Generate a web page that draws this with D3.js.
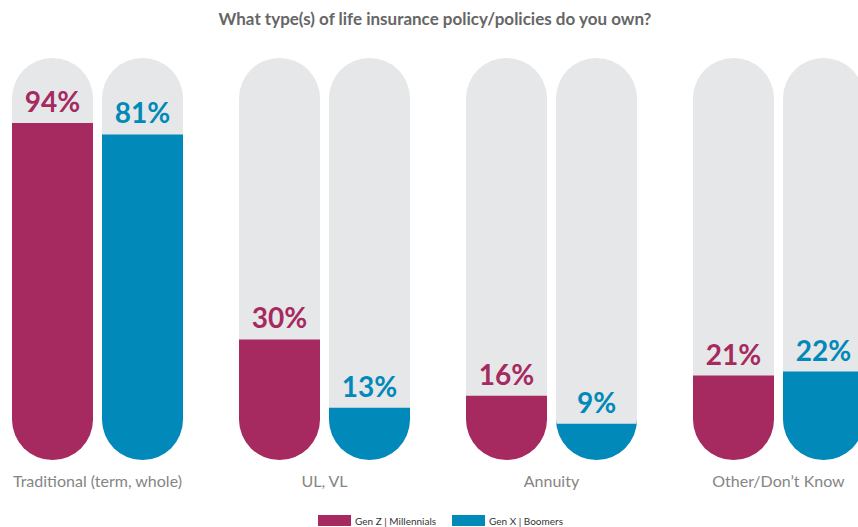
<!DOCTYPE html>
<html>
<head>
<meta charset="utf-8">
<script src="https://cdn.jsdelivr.net/npm/d3@7"></script>
<style>
  body { margin: 0; background: #fff; }
  svg { display: block; font-family: Lato, "Open Sans", sans-serif; }
</style>
</head>
<body>
<svg id="chart"></svg>
<script>
// data
var categories = ['Traditional (term, whole)', 'UL, VL', 'Annuity', 'Other/Don\u2019t Know'];
var series = ['Gen Z | Millennials', 'Gen X | Boomers'];
var genZMillennials = [94, 30, 16, 21];
var genXBoomers = [81, 13, 9, 22];
var colors = ['#a62a5f', '#0089b9'];

var width = 858, height = 527;
var pillTop = 58, pillBottom = 460;

var svg = d3.select('#chart')
    .attr('width', width)
    .attr('height', height);

// groups run off the right edge like the original
var x0 = d3.scaleBand()
    .domain(categories)
    .range([12, 864])
    .paddingInner(56 / 227)
    .paddingOuter(0);

var x1 = d3.scaleBand()
    .domain(series)
    .range([0, x0.bandwidth()])
    .paddingInner(0.1);

var yScale = d3.scaleLinear()
    .domain([0, 100])
    .range([pillBottom, pillBottom - 402]);

// highest the fill may go so the label still fits in the pill
var maxFillY = pillTop + 65;

var r = x1.bandwidth() / 2;

function pillPath(x, top, bottom) {
    var w = x1.bandwidth();
    return 'M' + x + ',' + (top + r) +
        'A' + r + ',' + r + ' 0 0 1 ' + (x + w) + ',' + (top + r) +
        'L' + (x + w) + ',' + (bottom - r) +
        'A' + r + ',' + r + ' 0 0 1 ' + x + ',' + (bottom - r) + 'Z';
}

function fillPath(x, top, bottom) {
    var w = x1.bandwidth();
    return 'M' + x + ',' + top +
        'L' + (x + w) + ',' + top +
        'L' + (x + w) + ',' + (bottom - r) +
        'A' + r + ',' + r + ' 0 0 1 ' + x + ',' + (bottom - r) + 'Z';
}

var rows = categories.map(function(c, i) {
    return { cat: c, vals: [genZMillennials[i], genXBoomers[i]] };
});

var group = svg.selectAll('g.group')
    .data(rows)
    .enter()
    .append('g')
    .attr('class', 'group')
    .attr('transform', function(d) { return 'translate(' + x0(d.cat) + ',0)'; });

var bars = group.selectAll('g.bar')
    .data(function(d) {
        return d.vals.map(function(v, j) { return { s: series[j], v: v, j: j }; });
    })
    .enter()
    .append('g')
    .attr('class', 'bar');

bars.append('path')
    .attr('d', function(d) { return pillPath(x1(d.s), pillTop, pillBottom); })
    .attr('fill', '#e6e7e8');

bars.append('path')
    .attr('d', function(d) {
        var top = Math.max(yScale(d.v), maxFillY);
        return fillPath(x1(d.s), top, pillBottom);
    })
    .attr('fill', function(d) { return colors[d.j]; });

bars.append('text')
    .attr('x', function(d) { return x1(d.s) + x1.bandwidth() / 2; })
    .attr('y', function(d) { return Math.max(yScale(d.v), maxFillY) - 11; })
    .attr('text-anchor', 'middle')
    .attr('font-size', 28)
    .attr('font-weight', 'bold')
    .attr('fill', function(d) { return colors[d.j]; })
    .text(function(d) { return d.v + '%'; });

// category names under the pills
group.append('text')
    .attr('x', x0.bandwidth() / 2)
    .attr('y', 487)
    .attr('text-anchor', 'middle')
    .attr('font-size', 16)
    .attr('fill', '#858585')
    .text(function(d) { return d.cat; });

// title
svg.append('text')
    .attr('x', 435)
    .attr('y', 25)
    .attr('text-anchor', 'middle')
    .attr('font-size', 17)
    .attr('font-weight', 'bold')
    .attr('fill', '#666666')
    .text('What type(s) of life insurance policy/policies do you own?');

// legend
var legendX = [318, 452];
var legend = svg.selectAll('g.legend')
    .data(series)
    .enter()
    .append('g')
    .attr('class', 'legend')
    .attr('transform', function(d, i) { return 'translate(' + legendX[i] + ',515)'; });

legend.append('rect')
    .attr('width', 33)
    .attr('height', 11)
    .attr('fill', function(d, i) { return colors[i]; });

legend.append('text')
    .attr('x', 37)
    .attr('y', 9.5)
    .attr('font-size', 10)
    .attr('fill', '#333')
    .text(function(d) { return d; });
</script>
</body>
</html>
